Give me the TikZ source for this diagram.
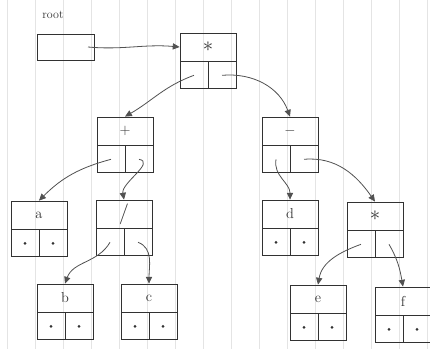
\documentclass[tikz,border=0pt]{standalone}
\usepackage{tikz}
\usetikzlibrary{arrows.meta,positioning}
\definecolor{exInk}{RGB}{50,50,50}
\definecolor{exRule}{RGB}{228,228,228}
\tikzset{
  exLabel/.style={draw=exInk, thick, minimum width=56pt, minimum height=28pt,
                  inner sep=0pt, font=\Large, text=exInk},
  exCell/.style={draw=exInk, thick, minimum width=28pt, minimum height=27pt,
                 inner sep=0pt},
  exRoot/.style={draw=exInk, thick, minimum width=57pt, minimum height=26pt,
                 inner sep=0pt},
  exPtr/.style={-{Triangle[length=2.4mm,width=2.2mm]}, thick, draw=exInk!85},
  exDot/.style={circle, fill=exInk, inner sep=0pt, minimum size=3pt}
}
% a tree cell: label on top, left and right pointer cells below
\newcommand{\exNode}[3]{%
  \node[exLabel] (#1) at (#2) {#3};
  \node[exCell, below=0pt of #1.south west, anchor=north west] (#1l) {};
  \node[exCell, below=0pt of #1.south east, anchor=north east] (#1r) {};
}
% a leaf: both pointer cells empty
\newcommand{\exLeaf}[3]{%
  \exNode{#1}{#2}{#3}
  \node[exDot] at (#1l) {};
  \node[exDot] at (#1r) {};
}

\begin{document}
\begin{tikzpicture}[x=1pt, y=-1pt]
  \useasboundingbox (0,0) rectangle (430,349);
  \fill[white] (0,0) rectangle (430,349);
  \foreach \gx in {7,35,...,430}
    \draw[exRule, line width=0.6pt] (\gx,0) -- (\gx,349);

  \node[font=\large, text=exInk] (rootlbl) at (53,15) {root};
  \node[exRoot] (root) at (66,47) {};

  \exNode{mul}{208,47}{\huge$*$}
  \exNode{add}{125,131}{$+$}
  \exNode{sub}{290,131}{$-$}
  \exLeaf{a}{39,215}{a}
  \exNode{div}{124,214}{\huge$/$}
  \exLeaf{d}{290,214}{d}
  \exNode{mulb}{375,216}{\huge$*$}
  \exLeaf{b}{65,298}{b}
  \exLeaf{c}{149,298}{c}
  \exLeaf{e}{318,299}{e}
  \exLeaf{f}{403,301}{f}

  \draw[exPtr] (root.center) ++(22,0) to[out=-5, in=175] (mul.west);
  \draw[exPtr] (mull.center) to[out=200, in=30] (add.north);
  \draw[exPtr] (mulr.center) to[out=5, in=110] (sub.north);
  \draw[exPtr] (addl.center) to[out=195, in=45] (a.north);
  \draw[exPtr] (addr.center) to[out=-10, in=100] (div.north);
  \draw[exPtr] (subl.center) to[out=-100, in=90] (d.north);
  \draw[exPtr] (subr.center) to[out=5, in=125] (mulb.north);
  \draw[exPtr] (divl.center) to[out=-120, in=70] (b.north);
  \draw[exPtr] (divr.center) to[out=-20, in=90] (c.north);
  \draw[exPtr] (mulbl.center) to[out=-160, in=80] (e.north);
  \draw[exPtr] (mulbr.center) to[out=-60, in=100] (f.north);
\end{tikzpicture}
\end{document}
